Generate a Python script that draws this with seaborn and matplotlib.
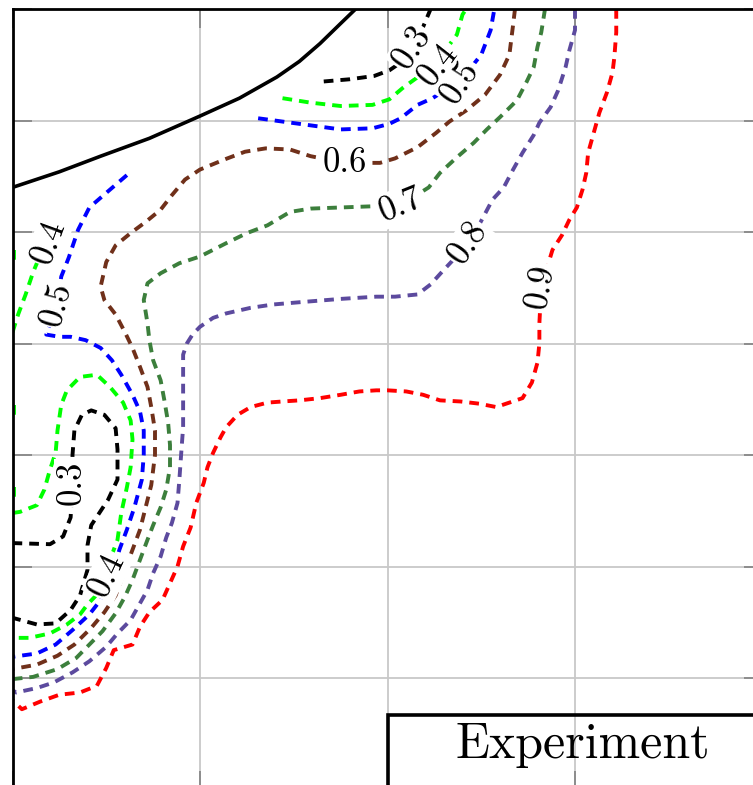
import matplotlib
matplotlib.use("Agg")
import matplotlib.pyplot as plt
import seaborn as sns
from matplotlib.patches import Rectangle

# contour levels and their colours
levels = ['0.3', '0.4', '0.5', '0.6', '0.7', '0.8', '0.9']
level_colors = ['#000000', '#00ff00', '#0000ff', '#70301a', '#3c7f3c', '#5c4a9e', '#ff0000']

# solid boundary line
boundary_x = [0.0, 0.25, 0.47, 0.73, 1.0, 1.21, 1.41, 1.53, 1.64, 1.75, 1.83, 1.87]
boundary_y = [5.40, 5.54, 5.68, 5.84, 6.04, 6.20, 6.39, 6.53, 6.69, 6.87, 7.0, 7.05]

# level 0.3
lvl03_a_x = [1.66, 1.80, 1.93, 2.01, 2.08, 2.13, 2.18, 2.21, 2.23]
lvl03_a_y = [6.35, 6.37, 6.40, 6.45, 6.53, 6.64, 6.80, 6.92, 7.0]
lvl03_b_x = [0.0, 0.20, 0.27, 0.31, 0.32, 0.32, 0.33, 0.37, 0.42, 0.49, 0.55, 0.56, 0.56,
             0.51, 0.42, 0.40, 0.40, 0.36, 0.31, 0.23, 0.13, 0.0]
lvl03_b_y = [2.21, 2.20, 2.27, 2.44, 2.73, 3.00, 3.22, 3.36, 3.40, 3.36, 3.24, 3.05, 2.78,
             2.60, 2.37, 2.19, 1.97, 1.74, 1.61, 1.49, 1.48, 1.54]

# level 0.4
lvl04_a_x = [1.44, 1.59, 1.75, 1.92, 2.01, 2.08, 2.17, 2.26, 2.37, 2.40, 2.42]
lvl04_a_y = [6.20, 6.16, 6.13, 6.14, 6.19, 6.29, 6.40, 6.52, 6.77, 6.95, 7.0]
lvl04_b_x = [0.0, 0.03, 0.07, 0.11, 0.15, 0.19]
lvl04_b_y = [4.10, 4.26, 4.44, 4.64, 4.80, 4.92]
lvl04_c_x = [0.01, 0.01]
lvl04_c_y = [4.84, 4.73]
lvl04_d_x = [0.01, 0.01]
lvl04_d_y = [3.45, 3.34]
lvl04_e_x = [0.01, 0.01]
lvl04_e_y = [2.71, 2.60]
lvl04_f_x = [0.0, 0.04, 0.13, 0.17, 0.20, 0.23, 0.24, 0.26, 0.29, 0.36, 0.45, 0.52, 0.59, 0.63,
             0.64, 0.63, 0.61, 0.58, 0.56, 0.52, 0.48, 0.44, 0.40, 0.36, 0.29, 0.20, 0.09, 0.0]
lvl04_f_y = [2.48, 2.49, 2.55, 2.69, 2.87, 3.02, 3.22, 3.45, 3.58, 3.70, 3.72, 3.61, 3.47, 3.31,
             3.14, 2.89, 2.71, 2.48, 2.24, 2.06, 1.88, 1.73, 1.66, 1.57, 1.48, 1.40, 1.36, 1.36]

# level 0.5
lvl05_a_x = [1.31, 1.53, 1.75, 1.92, 2.01, 2.07, 2.16, 2.24, 2.39, 2.50, 2.55, 2.57]
lvl05_a_y = [6.02, 5.97, 5.92, 5.93, 5.97, 6.02, 6.14, 6.20, 6.36, 6.59, 6.81, 7.0]
lvl05_b_x = [0.61, 0.52, 0.41, 0.35, 0.30, 0.26, 0.24, 0.18, 0.25, 0.31, 0.39, 0.47, 0.53, 0.58,
             0.64, 0.68, 0.70, 0.70, 0.69, 0.65, 0.61, 0.57, 0.55, 0.49, 0.47, 0.41, 0.32, 0.23,
             0.13, 0.0]
lvl05_b_y = [5.51, 5.38, 5.22, 5.02, 4.77, 4.60, 4.35, 4.08, 4.06, 4.06, 4.03, 3.96, 3.85, 3.72,
             3.54, 3.39, 3.22, 3.00, 2.78, 2.53, 2.33, 2.15, 2.03, 1.79, 1.70, 1.57, 1.43, 1.30,
             1.22, 1.19]

# level 0.6
lvl06_x = [2.68, 2.67, 2.65, 2.60, 2.52, 2.42, 2.33, 2.26, 2.16, 2.04, 1.96, 1.77, 1.59, 1.48,
           1.35, 1.24, 1.13, 1.00, 0.92, 0.85, 0.79, 0.71, 0.63, 0.55, 0.50, 0.47, 0.49, 0.55,
           0.60, 0.64, 0.68, 0.72, 0.74, 0.76, 0.76, 0.74, 0.71, 0.68, 0.64, 0.60, 0.55, 0.49,
           0.42, 0.33, 0.24, 0.13, 0.0]
lvl06_y = [7.0, 6.86, 6.59, 6.41, 6.23, 6.09, 5.99, 5.89, 5.76, 5.66, 5.62, 5.62, 5.68, 5.74,
           5.75, 5.72, 5.65, 5.56, 5.47, 5.33, 5.20, 5.09, 4.99, 4.88, 4.73, 4.51, 4.39, 4.26,
           4.10, 3.96, 3.79, 3.61, 3.43, 3.22, 3.00, 2.73, 2.53, 2.33, 2.15, 1.97, 1.74, 1.59,
           1.45, 1.30, 1.20, 1.12, 1.08]

# level 0.7
lvl07_x = [2.84, 2.82, 2.80, 2.78, 2.74, 2.69, 2.60, 2.53, 2.46, 2.37, 2.28, 2.22, 2.07, 1.91,
           1.75, 1.59, 1.48, 1.36, 1.25, 1.14, 1.00, 0.89, 0.79, 0.72, 0.70, 0.72, 0.73, 0.75,
           0.79, 0.81, 0.83, 0.84, 0.84, 0.82, 0.79, 0.75, 0.72, 0.68, 0.64, 0.60, 0.55, 0.48,
           0.41, 0.34, 0.24, 0.11, 0.0]
lvl07_y = [7.0, 6.79, 6.66, 6.48, 6.34, 6.18, 6.03, 5.92, 5.80, 5.67, 5.53, 5.40, 5.24, 5.23,
           5.22, 5.21, 5.18, 5.06, 4.99, 4.90, 4.78, 4.72, 4.63, 4.54, 4.39, 4.18, 4.03, 3.85,
           3.67, 3.49, 3.29, 3.09, 2.89, 2.69, 2.53, 2.37, 2.24, 2.06, 1.88, 1.73, 1.58, 1.42,
           1.30, 1.18, 1.08, 1.01, 0.99]

# level 0.8
lvl08_x = [3.00, 3.00, 2.97, 2.95, 2.91, 2.87, 2.81, 2.78, 2.72, 2.67, 2.62, 2.56, 2.44, 2.30,
           2.23, 2.16, 2.04, 1.94, 1.75, 1.53, 1.39, 1.27, 1.14, 1.07, 1.00, 0.96, 0.93, 0.91,
           0.91, 0.91, 0.91, 0.90, 0.89, 0.88, 0.85, 0.82, 0.79, 0.75, 0.72, 0.68, 0.63, 0.56,
           0.50, 0.41, 0.32, 0.22, 0.13, 0.02, 0.0]
lvl08_y = [7.0, 6.81, 6.63, 6.48, 6.27, 6.12, 5.98, 5.87, 5.71, 5.56, 5.40, 5.29, 4.91, 4.66,
           4.53, 4.44, 4.42, 4.42, 4.40, 4.37, 4.35, 4.32, 4.27, 4.23, 4.15, 4.08, 4.00, 3.90,
           3.72, 3.49, 3.25, 3.02, 2.78, 2.57, 2.39, 2.26, 2.09, 1.94, 1.79, 1.67, 1.52, 1.40,
           1.28, 1.15, 1.05, 0.96, 0.91, 0.87, 0.89]

# level 0.9
lvl09_x = [3.22, 3.22, 3.21, 3.20, 3.17, 3.13, 3.10, 3.07, 3.06, 3.04, 3.01, 2.97, 2.93, 2.88,
           2.82, 2.81, 2.81, 2.80, 2.77, 2.72, 2.65, 2.58, 2.49, 2.39, 2.28, 2.19, 2.10, 2.00,
           1.94, 1.85, 1.75, 1.64, 1.53, 1.44, 1.36, 1.27, 1.20, 1.14, 1.11, 1.07, 1.04, 1.02,
           0.98, 0.95, 0.91, 0.88, 0.84, 0.80, 0.73, 0.68, 0.64, 0.54, 0.50, 0.45, 0.36, 0.25,
           0.15, 0.05, 0.0]
lvl09_y = [7.0, 6.79, 6.57, 6.43, 6.25, 6.07, 5.89, 5.71, 5.53, 5.38, 5.22, 5.11, 4.97, 4.84,
           4.51, 4.18, 4.00, 3.83, 3.65, 3.51, 3.47, 3.43, 3.46, 3.48, 3.49, 3.54, 3.57, 3.58,
           3.58, 3.57, 3.54, 3.51, 3.49, 3.48, 3.47, 3.43, 3.36, 3.25, 3.16, 3.02, 2.89, 2.75,
           2.57, 2.35, 2.18, 2.00, 1.85, 1.70, 1.59, 1.46, 1.30, 1.25, 1.09, 0.93, 0.87, 0.85,
           0.79, 0.72, 0.80]

segments = [
    ('0.3', lvl03_a_x, lvl03_a_y), ('0.3', lvl03_b_x, lvl03_b_y),
    ('0.4', lvl04_a_x, lvl04_a_y), ('0.4', lvl04_b_x, lvl04_b_y),
    ('0.4', lvl04_c_x, lvl04_c_y), ('0.4', lvl04_d_x, lvl04_d_y),
    ('0.4', lvl04_e_x, lvl04_e_y), ('0.4', lvl04_f_x, lvl04_f_y),
    ('0.5', lvl05_a_x, lvl05_a_y), ('0.5', lvl05_b_x, lvl05_b_y),
    ('0.6', lvl06_x, lvl06_y), ('0.7', lvl07_x, lvl07_y),
    ('0.8', lvl08_x, lvl08_y), ('0.9', lvl09_x, lvl09_y),
]

# inline contour labels: text, x, y, rotation
label_text = ['0.3', '0.4', '0.5', '0.6', '0.7', '0.8', '0.9', '0.4', '0.5', '0.3', '0.4']
label_x = [2.13, 2.27, 2.39, 1.77, 2.07, 2.43, 2.82, 0.195, 0.237, 0.317, 0.504]
label_y = [6.65, 6.50, 6.34, 5.62, 5.24, 4.90, 4.51, 4.91, 4.35, 2.75, 1.92]
label_rot = [57, 52, 57, 0, 22, 55, 80, 70, 75, 90, 65]

legend_title = 'Experiment'

sns.set_theme(style='whitegrid')
plt.rcParams['font.family'] = ['cmr10', 'DejaVu Serif']
plt.rcParams['axes.formatter.use_mathtext'] = True

fig = plt.figure(figsize=(7.53, 7.85), dpi=100)
ax = fig.add_axes([12.5 / 753, -4.5 / 785, 750 / 753, 780.5 / 785])
ax.set_facecolor('white')

color_of = dict(zip(levels, level_colors))
dash = (0, (2.5, 1.8))

sns.lineplot(x=boundary_x, y=boundary_y, sort=False, estimator=None,
             color='black', lw=2.6, ax=ax)
for lvl, xs, ys in segments:
    sns.lineplot(x=xs, y=ys, sort=False, estimator=None, color=color_of[lvl],
                 linestyle=dash, lw=2.8, ax=ax)

for t, x, y, r in zip(label_text, label_x, label_y, label_rot):
    ax.text(x, y, t, fontsize=25, rotation=r, ha='center', va='center', color='black',
            rotation_mode='anchor', zorder=5,
            bbox=dict(boxstyle='square,pad=0.05', fc='white', ec='none'))

# legend-style box, partly outside the visible area
ax.add_patch(Rectangle((2.0, -1.0), 3.0, 1.667, fill=False, ec='black', lw=2.6, zorder=6))
ax.text(3.043, 0.283, legend_title, fontsize=36, ha='center', va='baseline',
        color='black', zorder=6)

ax.set_xlim(0, 4)
ax.set_ylim(0, 7)
ax.set_xticks(range(0, 5))
ax.set_yticks(range(0, 8))
ax.set_xticklabels([])
ax.set_yticklabels([])
ax.set_xlabel('')
ax.set_ylabel('')
ax.grid(True, color='#c8c8c8', lw=1.3)
ax.tick_params(direction='in', length=14, width=1.3, color='#888888',
               top=True, right=True, bottom=True, left=True)
for side in ['top', 'left', 'right', 'bottom']:
    ax.spines[side].set_color('black')
    ax.spines[side].set_linewidth(2.0)
    ax.spines[side].set_visible(True)

fig.savefig('out.png', dpi=100)
